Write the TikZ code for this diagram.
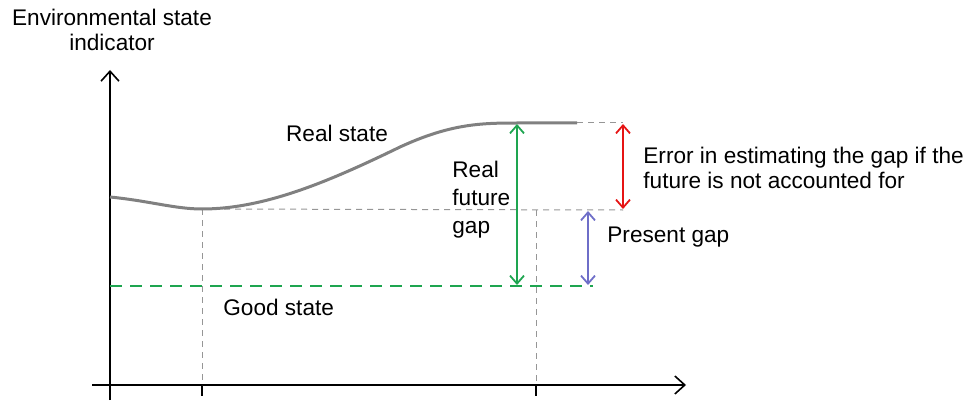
\documentclass[tikz,border=0pt]{standalone}
\usepackage{fontspec}
\setmainfont{Liberation Sans}
\usepackage{tikz}
\usetikzlibrary{arrows.meta, calc}

\definecolor{curvegray}{RGB}{128,128,128}
\definecolor{dashgray}{RGB}{150,150,150}
\definecolor{goodgreen}{RGB}{30,165,80}
\definecolor{errred}{RGB}{230,20,20}
\definecolor{gapblue}{RGB}{110,110,200}

\tikzset{
  lbl/.style={inner sep=0pt, font=\fontsize{11.3}{14}\selectfont},
  guide/.style={dashgray, dashed, dash pattern=on 3pt off 2.5pt, line width=0.5pt},
  gaparrow/.style={line width=0.9pt, {Straight Barb[length=4pt,width=7pt]}-{Straight Barb[length=4pt,width=7pt]}}
}

\begin{document}
\begin{tikzpicture}[x=0.5pt, y=-0.5pt]
  \useasboundingbox (0,0) rectangle (969,401);

     % -------------------------
     % Axes
     % -------------------------
      \coordinate (O) at (110,385);
      \coordinate (ytop) at (110,70);
      \coordinate (ybot) at (110,400);
      \coordinate (xleft) at (92,385);
      \coordinate (xright) at (686,385);
      \draw[line width=0.8pt, -{Straight Barb[length=5pt,width=9pt]}] (ybot) -- (ytop);
      \draw[line width=0.8pt, -{Straight Barb[length=5pt,width=9pt]}] (xleft) -- (xright);
      \node[lbl, align=center, font=\fontsize{11.3}{12.5}\selectfont] (ylabel) at (112,30) {Environmental state\\indicator};

      % Ticks
      \coordinate (tnow) at (202,385);
      \coordinate (tfut) at (536,385);
      \draw[line width=0.8pt] (tnow) -- ++(0,11);
      \draw[line width=0.8pt] (tfut) -- ++(0,11);

      % Key levels
      \coordinate (start) at (110,197);
      \coordinate (now) at (202,209);
      \coordinate (top) at (517,123);
      \coordinate (topend) at (577,123);
      \coordinate (errtop) at (623,123);
      \coordinate (errbot) at (623,210);
      \coordinate (good0) at (110,286);
      \coordinate (good1) at (593,286);

      % Dashed guides
      \draw[guide] (topend) -- (errtop);
      \draw[guide] (now) -- (errbot);
      \draw[guide] (now) -- (tnow);
      \draw[guide] (536,210) -- (tfut);

      % Good state
      \draw[goodgreen, line width=1.2pt, dash pattern=on 6pt off 4pt] (good0) -- (good1);
      \node[lbl, anchor=west] (good) at (223,307) {Good state};

      % Real state curve
      \draw[curvegray, line width=1.5pt]
        (start) .. controls (150,201) and (175,209) .. (now)
        .. controls (265,209) and (330,181) .. (400,147)
        .. controls (450,124) and (480,123) .. (top) -- (topend);
      \node[lbl] (real) at (337,133) {Real state};

      % Gap arrows
      \draw[gaparrow, goodgreen] (517,124) -- (517,285);
      \node[lbl, anchor=west, align=left] (future) at (452,200) {Real\\future\\gap};

      \draw[gaparrow, gapblue] (588,211) -- (588,285);
      \node[lbl, anchor=west] (present) at (607,237) {Present gap};

      \draw[gaparrow, errred] (623,124) -- (623,209);
      \node[lbl, anchor=west, align=left, font=\fontsize{11.3}{12.5}\selectfont] (error) at (643,168) {Error in estimating the gap if the\\future is not accounted for};
\end{tikzpicture}
\end{document}
